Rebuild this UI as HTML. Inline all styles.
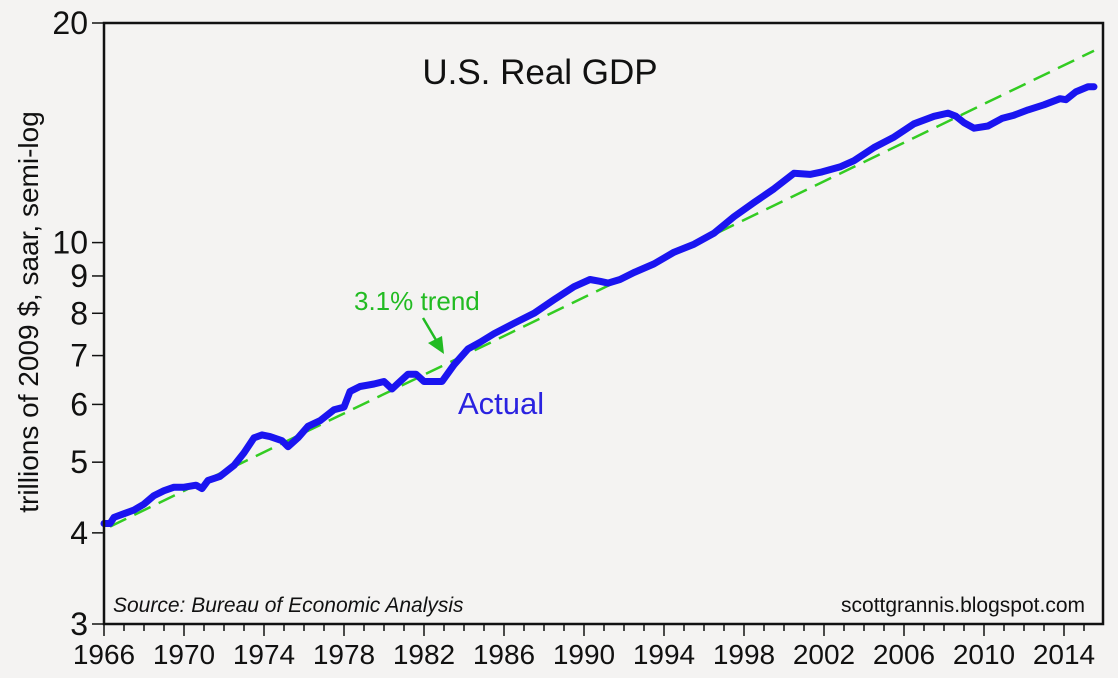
<!DOCTYPE html>
<html><head><meta charset="utf-8"><style>
html,body{margin:0;padding:0;background:#f4f3f2;}
svg{display:block;font-family:"Liberation Sans",sans-serif;}
</style></head><body>
<svg id="chart" width="1118" height="678" viewBox="0 0 1118 678">
<rect x="0" y="0" width="1118" height="678" fill="#f4f3f2"/>
<g id="grid"></g>
<g id="series"></g>
<rect x="104" y="23" width="999" height="601" fill="none" stroke="#111" stroke-width="2.5"/>
<g id="axes"></g>
<text x="540" y="84" font-size="35" text-anchor="middle" fill="#111">U.S. Real GDP</text>
<text transform="translate(38,312) rotate(-90)" font-size="28" text-anchor="middle" fill="#111">trillions of 2009 $, saar, semi-log</text>
<text x="113" y="612" font-size="21" font-style="italic" fill="#111">Source:  Bureau of Economic Analysis</text>
<text x="1085" y="612" font-size="21" text-anchor="end" fill="#111">scottgrannis.blogspot.com</text>
<text x="458" y="414" font-size="31" fill="#2a22e0">Actual</text>
<text x="354" y="310" font-size="26" fill="#22bb22">3.1% trend</text>
<g>
<line x1="423" y1="318" x2="436" y2="340" stroke="#22bb22" stroke-width="2.5"/>
<polygon points="428,343 442,336 444,354" fill="#22bb22"/>
</g>
</svg>
<script>
const years=[1966.0,1966.3,1966.5,1967,1967.5,1968,1968.5,1969,1969.5,1970,1970.6,1970.9,1971.2,1971.8,1972.5,1973.0,1973.5,1973.9,1974.3,1974.9,1975.2,1975.7,1976.2,1976.8,1977.5,1978.0,1978.3,1978.8,1979.5,1980.0,1980.4,1980.8,1981.2,1981.6,1982.0,1982.5,1982.9,1983.5,1984.2,1984.8,1985.5,1986.5,1987.5,1988.5,1989.5,1990.3,1990.8,1991.2,1991.8,1992.5,1993.5,1994.5,1995.5,1996.5,1997.5,1998.5,1999.5,2000.5,2001.3,2001.9,2002.8,2003.5,2004.5,2005.5,2006.5,2007.5,2008.2,2008.6,2009.0,2009.5,2010.2,2010.9,2011.5,2012.2,2013.0,2013.8,2014.1,2014.6,2015.2,2015.5];
const gdp=[4.12,4.12,4.2,4.25,4.3,4.38,4.5,4.57,4.62,4.62,4.65,4.6,4.72,4.78,4.95,5.15,5.4,5.45,5.42,5.35,5.25,5.4,5.6,5.7,5.9,5.95,6.25,6.35,6.4,6.45,6.3,6.45,6.6,6.6,6.45,6.45,6.45,6.8,7.15,7.3,7.5,7.75,8.0,8.35,8.7,8.9,8.85,8.8,8.9,9.1,9.35,9.7,9.95,10.3,10.85,11.35,11.85,12.45,12.4,12.5,12.7,12.95,13.5,13.95,14.55,14.9,15.05,14.9,14.6,14.35,14.45,14.8,14.95,15.2,15.45,15.75,15.7,16.1,16.35,16.35];
const trendStart=[1966.3,4.08];
const trendRate=[0.031];
const trendEnd=[2015.5];
const yTicks=[3,4,5,6,7,8,9,10,20];
const yTickLabels=["3","4","5","6","7","8","9","10","20"];
const xMajor=[1966,1970,1974,1978,1982,1986,1990,1994,1998,2002,2006,2010,2014];

const NS="http://www.w3.org/2000/svg";
const X0=104,X1=1103,Y0=23,Y1=624;
const xMin=1966,xMax=2015.95,yMin=3,yMax=20;
function xs(v){return X0+(v-xMin)/(xMax-xMin)*(X1-X0);}
function ys(v){return Y1-(Math.log10(v)-Math.log10(yMin))/(Math.log10(yMax)-Math.log10(yMin))*(Y1-Y0);}
function mk(tag,attrs,parent){const e=document.createElementNS(NS,tag);for(const k in attrs)e.setAttribute(k,attrs[k]);parent.appendChild(e);return e;}
const axes=document.getElementById('axes'),series=document.getElementById('series');

yTicks.forEach((t,i)=>{
  const y=ys(t);
  const l=mk('line',{x1:X0-12,x2:X0,y1:y,y2:y,stroke:'#111','stroke-width':1.5},axes);
  
  
  const tx=mk('text',{x:X0-16,y:y+11,'font-size':32,'text-anchor':'end',fill:'#111'},axes);
  tx.textContent=yTickLabels[i];
  
  
});
for(let yr=1966;yr<=2015;yr++){
  const x=xs(yr);const major=xMajor.includes(yr);
  const l=mk('line',{x1:x,x2:x,y1:Y1,y2:Y1+(major?12:7),stroke:'#111','stroke-width':1.5},axes);
  
  
}
xMajor.forEach(yr=>{
  const tx=mk('text',{x:xs(yr),y:664,'font-size':28,'text-anchor':'middle',fill:'#111'},axes);
  tx.textContent=String(yr);
  
  
});

const tr=mk('line',{x1:xs(trendStart[0]),y1:ys(trendStart[1]),x2:xs(trendEnd[0]),y2:ys(trendStart[1]*Math.pow(1+trendRate[0],trendEnd[0]-trendStart[0])),stroke:'#33cc22','stroke-width':2.5,'stroke-dasharray':'18,9'},series);



const d=years.map((y,i)=>(i?'L':'M')+xs(y).toFixed(1)+','+ys(gdp[i]).toFixed(1)).join(' ');
const p=mk('path',{d:d,fill:'none',stroke:'#1a14f0','stroke-width':7,'stroke-linejoin':'round','stroke-linecap':'round'},series);


</script>
</body></html>
